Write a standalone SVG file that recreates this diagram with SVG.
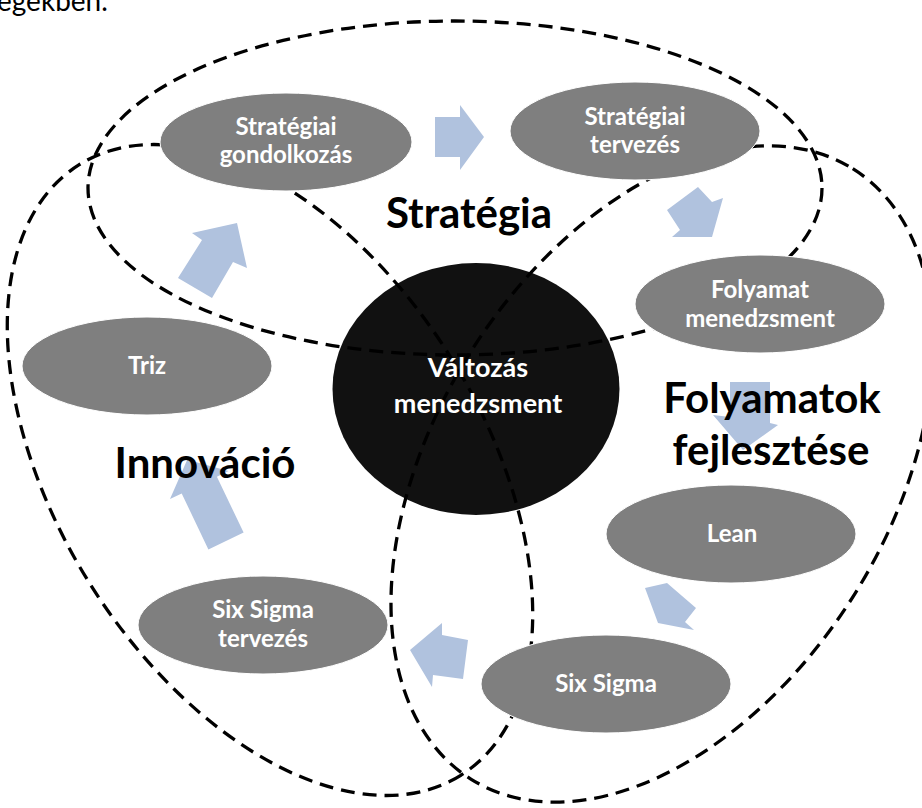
<svg xmlns="http://www.w3.org/2000/svg" width="922" height="808" viewBox="0 0 922 808">
<style>
.region{fill:none;stroke:#000;stroke-width:3.3;stroke-dasharray:14 8}
.node ellipse{fill:#7f7f7f;stroke:#ffffff;stroke-width:1}
.lbl{font-family:Lato,"Open Sans",sans-serif;font-weight:700;fill:#fff;text-anchor:middle;font-size:24px}
.big{font-family:Lato,"Open Sans",sans-serif;font-weight:700;font-size:42px;fill:#000;text-anchor:middle}
.arr{fill:#b0c2de}
</style>
<rect width="922" height="808" fill="#fff"/>
<text x="-3" y="11" font-family="Lato, 'Open Sans', sans-serif" font-size="28" fill="#000">egekben.</text>

<g id="center-node">
  <ellipse cx="476" cy="389" rx="143.5" ry="126" fill="#111"/>
</g>

<g id="regions">
  <ellipse class="region" cx="455" cy="188" rx="367" ry="167"/>
  <ellipse class="region" cx="662" cy="474" rx="360" ry="227" transform="rotate(-58 662 474)"/>
  <ellipse class="region" cx="270" cy="470" rx="360" ry="213" transform="rotate(58 270 470)"/>
</g>

<g id="center-label">
  <text class="lbl" x="478" y="377" style="font-size:27px">Változás</text>
  <text class="lbl" x="478" y="413" style="font-size:27px">menedzsment</text>
</g>

<g id="connectors">
  <polygon class="arr" points="435,117 460,117 460,105 484,137 460,170 460,157 435,157"/>
  <polygon class="arr" points="667,210 698,187 712,202 723,198 712,237 672,237 680,230"/>
  <polygon class="arr" points="730,382 770,382 770,423 778,425 743,450 713,415 730,417"/>
  <polygon class="arr" points="645,588 667,583 696,608 685,622 694,630 658,623"/>
  <polygon class="arr" points="410,650 442,623 442,635 468,640 463,679 433,675 432,687"/>
  <polygon class="arr" points="208.4,549.4 181.7,493.5 170,499.1 187.2,459.8 228.6,471.1 216.9,476.7 243.6,532.6"/>
  <polygon class="arr" points="237,223 247,268 233,262 212,298 178,278 202,240 192,233"/>
</g>

<g id="node-strat-gondolkozas" class="node">
  <ellipse cx="286" cy="142" rx="126" ry="49"/>
  <text class="lbl" x="286" y="135">Stratégiai</text>
  <text class="lbl" x="286" y="163">gondolkozás</text>
</g>
<g id="node-strat-tervezes" class="node">
  <ellipse cx="635" cy="131" rx="125" ry="49"/>
  <text class="lbl" x="635" y="125">Stratégiai</text>
  <text class="lbl" x="635" y="153">tervezés</text>
</g>
<g id="node-folyamat" class="node">
  <ellipse cx="760" cy="304" rx="125" ry="49"/>
  <text class="lbl" x="760" y="298">Folyamat</text>
  <text class="lbl" x="760" y="327">menedzsment</text>
</g>
<g id="node-triz" class="node">
  <ellipse cx="147" cy="366" rx="125" ry="49"/>
  <text class="lbl" x="147" y="374">Triz</text>
</g>
<g id="node-lean" class="node">
  <ellipse cx="731" cy="534" rx="125" ry="49"/>
  <text class="lbl" x="732" y="542">Lean</text>
</g>
<g id="node-sixsigma-tervezes" class="node">
  <ellipse cx="263" cy="625" rx="125" ry="49"/>
  <text class="lbl" x="263" y="618">Six Sigma</text>
  <text class="lbl" x="263" y="647">tervezés</text>
</g>
<g id="node-sixsigma" class="node">
  <ellipse cx="606" cy="684" rx="125" ry="49"/>
  <text class="lbl" x="606" y="692">Six Sigma</text>
</g>

<g id="region-labels">
  <text class="big" x="469" y="228">Stratégia</text>
  <text class="big" x="205" y="478">Innováció</text>
  <text class="big" x="772" y="413">Folyamatok</text>
  <text class="big" x="771" y="465">fejlesztése</text>
</g>
</svg>
